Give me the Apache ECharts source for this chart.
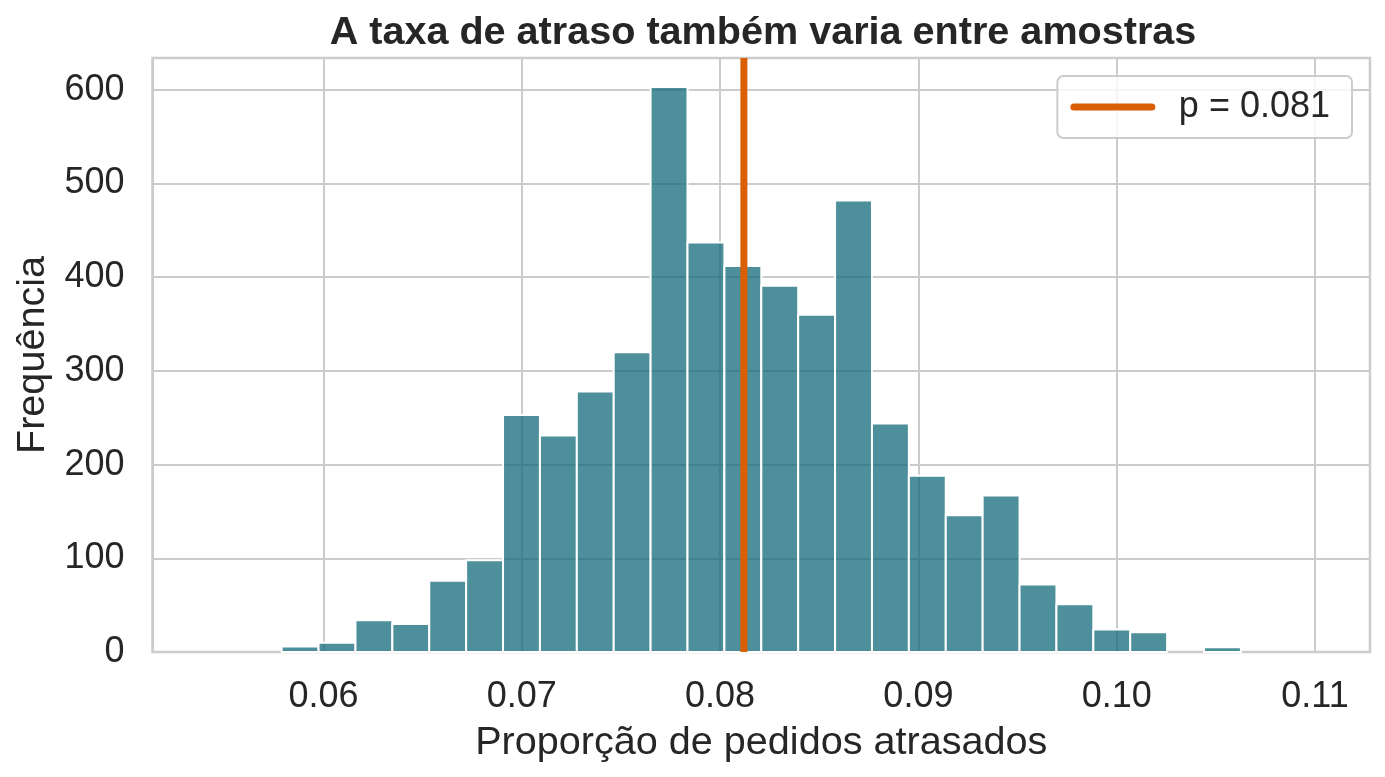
<!DOCTYPE html>
<html>
<head>
<meta charset="utf-8">
<script src="https://cdn.jsdelivr.net/npm/echarts@6/dist/echarts.min.js"></script>
<style>
html,body{margin:0;padding:0;background:#fff;}
#main{width:1385px;height:777px;}
</style>
</head>
<body>
<div id="main"></div>
<script>
// histograma: 30 classes de mesma largura
var binStart = 0.05417;
var binWidth = 0.0018605;
var counts = [0, 0, 6, 10, 34, 30, 76, 98, 253, 231, 278, 320, 603, 437, 412,
              391, 360, 482, 244, 188, 146, 167, 72, 51, 24, 21, 0, 5, 0, 0];
var pValue = 0.0812;
var pLabel = 'p = 0.081';
var xMin = 0.051377, xMax = 0.112774;
var yMax = 634;

var textColor = '#262626';
var fontName = 'Liberation Sans, Arial, sans-serif';

function buildBins(){
	var list = [];
	for(var i=0;i<counts.length;i++){
		var left = binStart + i*binWidth;
		list.push([left, left + binWidth, counts[i]]);
	}
	return list;
}

function renderBin(params, api){
	if(api.value(2)==0) return null;
	var p0 = api.coord([api.value(0), 0]);
	var p1 = api.coord([api.value(1), api.value(2)]);
	return {
		type: 'rect',
		shape: {x: p0[0], y: p1[1], width: p1[0]-p0[0], height: p0[1]-p1[1]},
		style: {fill: 'rgba(18,106,122,0.75)', stroke: '#ffffff', lineWidth: 2}
	};
}

var myChart = echarts.init(document.getElementById('main'));
var option = {
	backgroundColor: '#ffffff',
	animation: false,
	textStyle: {fontFamily: fontName},
	title: {
		text: 'A taxa de atraso também varia entre amostras',
		left: 758, top: 8, textAlign: 'center',
		textStyle: {fontSize: 39.6, fontWeight: 'bold', color: textColor, fontFamily: fontName}
	},
	legend: {
		right: 33, top: 76,
		padding: [13, 22, 13, 13],
		itemWidth: 78, itemHeight: 7,
		borderColor: '#cccccc', borderWidth: 2, borderRadius: 6,
		backgroundColor: 'rgba(255,255,255,0.8)',
		lineStyle: {width: 7, cap: 'round'},
		textStyle: {fontSize: 36, color: textColor, padding: [0, 0, 0, 22], fontFamily: fontName},
		data: [{name: pLabel}]
	},
	grid: {
		left: 152.5, right: 15, top: 58, bottom: 125,
		outerBoundsMode: 'none', containLabel: false,
		show: true, borderColor: '#cccccc', borderWidth: 2.5,
		backgroundColor: '#ffffff'
	},
	xAxis: {
		type: 'value', min: xMin, max: xMax,
		name: 'Proporção de pedidos atrasados',
		nameLocation: 'middle', nameGap: 71,
		nameTextStyle: {fontSize: 39.6, color: textColor, fontFamily: fontName},
		axisLine: {show: false}, axisTick: {show: false},
		axisLabel: {fontSize: 36, color: textColor, margin: 27, showMinLabel: false, showMaxLabel: false,
			formatter: function(v){ return v.toFixed(2); }},
		splitLine: {show: true, lineStyle: {color: '#cccccc', width: 2}}
	},
	yAxis: {
		type: 'value', min: 0, max: yMax,
		name: 'Frequência',
		nameLocation: 'middle', nameGap: 96,
		nameTextStyle: {fontSize: 39.6, color: textColor, fontFamily: fontName},
		axisLine: {show: false}, axisTick: {show: false},
		axisLabel: {fontSize: 36, color: textColor, margin: 28, showMaxLabel: false},
		splitLine: {show: true, lineStyle: {color: '#cccccc', width: 2}}
	},
	series: [
		{
			type: 'custom',
			name: 'hist',
			renderItem: renderBin,
			encode: {x: [0, 1], y: 2},
			data: buildBins(),
			z: 2
		},
		{
			type: 'line',
			name: pLabel,
			data: [[pValue, 0], [pValue, yMax]],
			symbol: 'none',
			lineStyle: {color: '#d95f02', width: 7},
			itemStyle: {color: '#d95f02'},
			z: 3
		}
	]
};
myChart.setOption(option);
</script>
</body>
</html>
